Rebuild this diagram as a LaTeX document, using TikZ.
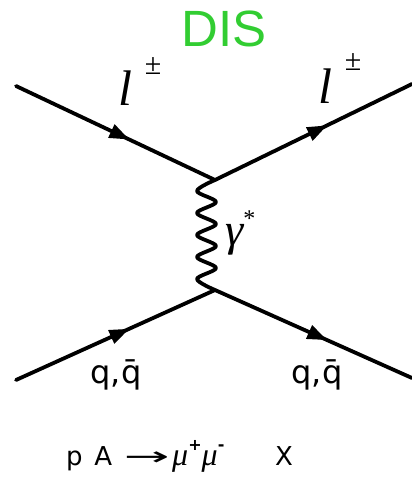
\RequirePackage{fix-cm}
\documentclass[tikz,border=0pt]{standalone}
\usepackage{fontspec}
\setmainfont{Liberation Serif}
\setsansfont{DejaVu Sans}
\newfontfamily\arialfont{Liberation Sans}
\usetikzlibrary{arrows.meta,decorations.markings}
\definecolor{disgreen}{RGB}{50,205,50}
\tikzset{
  fermion/.style={line width=3.8pt, line cap=round,
    decoration={markings, mark=at position 0.57 with {\arrow{Triangle[length=20pt,width=14pt]}}},
    postaction={decorate}},
  photon/.style={line width=3.8pt, line join=round},
  lep/.style={inner sep=0pt, anchor=base, font=\fontsize{50}{50}\selectfont\itshape},
  pm/.style={inner sep=0pt, font=\fontsize{30}{30}\selectfont},
  quark/.style={inner sep=0pt, font=\sffamily\fontsize{32}{32}\selectfont},
}
\newcommand{\mymu}{{\rmfamily\itshape\fontsize{32}{32}\selectfont μ}}
\newcommand{\mysup}[1]{\raisebox{0.55em}{\fontsize{16}{16}\selectfont\bfseries #1}}
\begin{document}
\begin{tikzpicture}[x=1pt,y=-1pt]
\useasboundingbox (0,0) rectangle (412,477);
\coordinate (a) at (16,86);
\coordinate (b) at (412,84);
\coordinate (c) at (16,380);
\coordinate (d) at (412,378);
\coordinate (v1) at (215,180);
\coordinate (v2) at (215,290);
\draw[fermion] (a) -- (v1);
\draw[fermion] (v1) -- (b);
\draw[fermion] (c) -- (v2);
\draw[fermion] (v2) -- (d);
\draw[photon] (v1) plot[smooth, tension=0.55] coordinates {(215,180) (197,191) (216,202) (197,213) (216,224) (197,235) (216,246) (197,257) (216,268) (197,279) (215,290)};
\node[font=\arialfont\fontsize{51}{51}\selectfont, text=disgreen, inner sep=0pt] (dis) at (224,29) {DIS};
\node[lep] (l1) at (125,105) {l};
\node[pm] (p1) at (153,66) {±};
\node[lep] (l2) at (325,103) {l};
\node[pm] (p2) at (353,62) {±};
\node[inner sep=0pt, anchor=base west, font=\fontsize{46}{46}\selectfont\itshape] (g) at (225,245) {γ\raisebox{19pt}{\fontsize{24}{24}\selectfont\upshape *}};
\node[quark] (q1) at (116,375) {q,q̄};
\node[quark] (q2) at (317,375) {q,q̄};
\node[inner sep=0pt, anchor=base west, font=\sffamily\fontsize{26}{26}\selectfont] (eq) at (66,465) {p\hspace{0.45em}A\hspace{0.45em}\scalebox{2.1}[1]{→}\hspace{0.1em}\mymu\mysup{+}\mymu\mysup{-}\hspace{1.95em}X};
\end{tikzpicture}
\end{document}
